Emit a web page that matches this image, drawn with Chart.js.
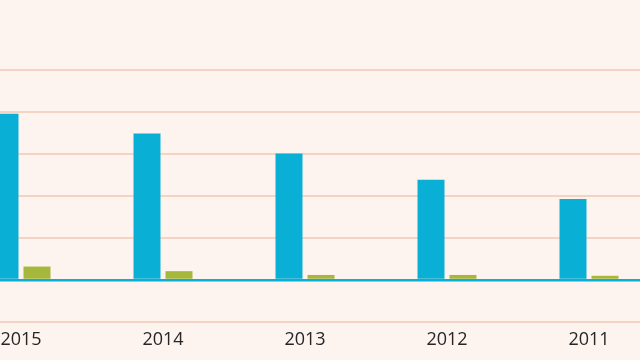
<!DOCTYPE html>
<html>
<head>
<meta charset="utf-8">
<script src="https://cdn.jsdelivr.net/npm/chart.js@4"></script>
<style>
  html, body { margin: 0; padding: 0; width: 640px; height: 360px; overflow: hidden; background: #fdf3ef; }
  #wrap { position: absolute; left: -50px; top: 0; width: 710px; height: 360px; }
</style>
</head>
<body>
<div id="wrap"><canvas id="chart" width="710" height="360"></canvas></div>
<script>
const years = ['2015', '2014', '2013', '2012', '2011'];
const blueValues = [39.6, 34.9, 30.1, 23.9, 19.3];
const greenValues = [3.2, 2.1, 1.2, 1.2, 1.0];

const blue = '#0aafd6';
const green = '#a6b83c';
const gridPeach = '#f5d3c3';

const ctx = document.getElementById('chart').getContext('2d');
new Chart(ctx, {
    type: 'bar',
    data: {
        labels: years,
        datasets: [
            { data: blueValues, backgroundColor: blue, categoryPercentage: 0.4507, barPercentage: 0.844 },
            { data: greenValues, backgroundColor: green, categoryPercentage: 0.4507, barPercentage: 0.844 }
        ]
    },
    options: {
        responsive: false,
        animation: false,
        devicePixelRatio: 1,
        layout: { padding: 0 },
        plugins: { legend: { display: false }, tooltip: { enabled: false } },
        scales: {
            x: {
                grid: { display: false },
                border: { display: false },
                ticks: { color: '#262626', font: { family: 'Open Sans', size: 18 }, padding: -1, maxRotation: 0 },
                afterFit: (s) => { s.height = 38; }
            },
            y: {
                min: -10,
                max: 66.67,
                border: { display: false },
                ticks: { display: false, stepSize: 10 },
                grid: {
                    drawTicks: false,
                    lineWidth: (c) => c.tick && c.tick.value === 0 ? 2.5 : 2,
                    color: (c) => {
                        if (!c.tick) return 'transparent';
                        if (c.tick.value === 0) return blue;
                        if (c.tick.value > 50) return 'transparent';
                        return gridPeach;
                    }
                },
                afterFit: (s) => { s.width = 0; }
            }
        }
    }
});
</script>
</body>
</html>
